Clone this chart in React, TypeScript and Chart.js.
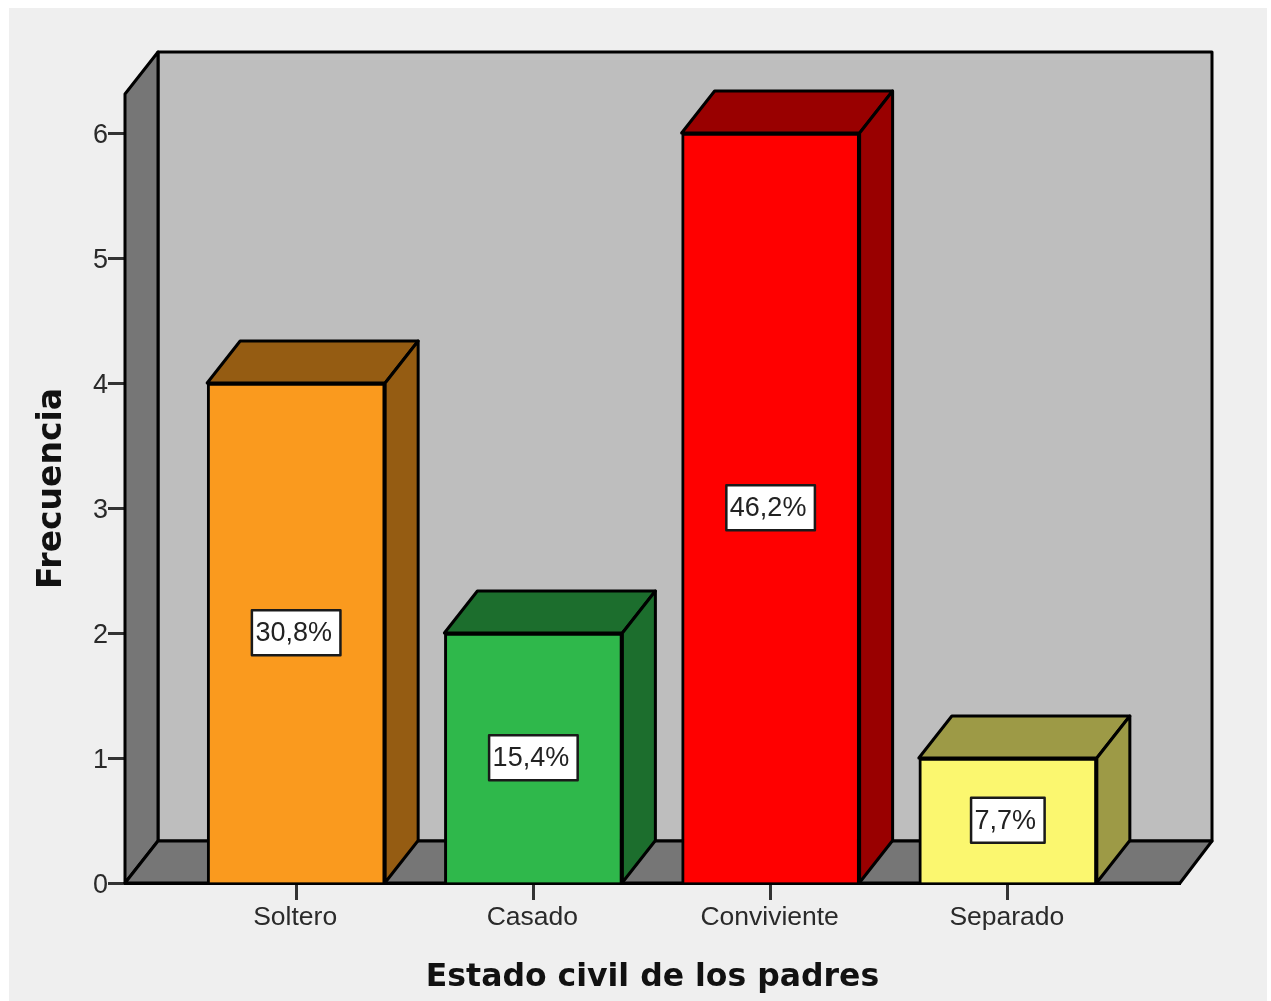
import React, { useEffect, useRef } from "react";
import { Chart, registerables } from "chart.js";

Chart.register(...registerables);

const categories = ["Soltero", "Casado", "Conviviente", "Separado"];
const frequencies = [4, 2, 6, 1];
const percentLabels = ["30,8%", "15,4%", "46,2%", "7,7%"];
const frontColors = ["#FA9A1E", "#2FB84B", "#FF0000", "#FBF76F"];
const sideColors = ["#955C12", "#1C6E2D", "#990000", "#9D9A46"];
const yTicks = [0, 1, 2, 3, 4, 5, 6];
const xAxisTitle = "Estado civil de los padres";
const yAxisTitle = "Frecuencia";

const DEPTH_X = 33;
const DEPTH_Y = 42;
const LABEL_FONT = '27px "Liberation Sans", Arial, sans-serif';

function poly(ctx: CanvasRenderingContext2D, pts: number[][], fill: string) {
  ctx.beginPath();
  pts.forEach((p, i) => (i ? ctx.lineTo(p[0], p[1]) : ctx.moveTo(p[0], p[1])));
  ctx.closePath();
  ctx.fillStyle = fill;
  ctx.fill();
  ctx.strokeStyle = "#000";
  ctx.lineWidth = 3;
  ctx.lineJoin = "round";
  ctx.stroke();
}

const panelPlugin = {
  id: "panel",
  beforeDraw(chart: any) {
    const { ctx, width, height } = chart;
    ctx.save();
    ctx.fillStyle = "#fff";
    ctx.fillRect(0, 0, width, height);
    ctx.fillStyle = "#EFEFEF";
    ctx.fillRect(9, 8, 1258, height - 8);
    ctx.restore();
  },
};

const wallsPlugin = {
  id: "walls",
  beforeDatasetsDraw(chart: any) {
    const { ctx, chartArea: a } = chart;
    const backL = a.left + DEPTH_X;
    const backR = a.right + DEPTH_X - 1;
    const backT = a.top - DEPTH_Y;
    const backB = a.bottom - DEPTH_Y;
    ctx.save();
    poly(ctx, [[backL, backT], [backR, backT], [backR, backB], [backL, backB]], "#BEBEBE");
    poly(ctx, [[a.left, a.top], [backL, backT], [backL, backB], [a.left, a.bottom]], "#767676");
    poly(ctx, [[a.left, a.bottom], [backL, backB], [backR, backB], [a.right, a.bottom]], "#767676");
    ctx.restore();
  },
};

const barFacesPlugin = {
  id: "barFaces",
  afterDatasetsDraw(chart: any) {
    const { ctx } = chart;
    const bars = chart.getDatasetMeta(0).data;
    ctx.save();
    bars.forEach((bar: any, i: number) => {
      const half = bar.width / 2;
      const l = bar.x - half;
      const r = bar.x + half;
      const t = bar.y;
      const b = bar.base;
      poly(ctx, [[l, t], [l + DEPTH_X, t - DEPTH_Y], [r + DEPTH_X, t - DEPTH_Y], [r, t]], sideColors[i]);
      poly(ctx, [[r, t], [r + DEPTH_X, t - DEPTH_Y], [r + DEPTH_X, b - DEPTH_Y], [r, b]], sideColors[i]);
    });
    bars.forEach((bar: any, i: number) => {
      const midY = (bar.y + bar.base) / 2;
      ctx.font = LABEL_FONT;
      const w = ctx.measureText(percentLabels[i]).width + 12;
      const h = 45;
      ctx.fillStyle = "#fff";
      ctx.strokeStyle = "#1a1a1a";
      ctx.lineWidth = 2.5;
      ctx.fillRect(bar.x - w / 2, midY - h / 2, w, h);
      ctx.strokeRect(bar.x - w / 2, midY - h / 2, w, h);
      ctx.fillStyle = "#222";
      ctx.textAlign = "center";
      ctx.textBaseline = "middle";
      ctx.fillText(percentLabels[i], bar.x - 2.5, midY + 1);
    });
    ctx.restore();
  },
};

export default function App() {
  const ref = useRef<HTMLCanvasElement>(null);
  useEffect(() => {
    const chart = new Chart(ref.current!, {
      type: "bar",
      data: {
        datasets: [
          {
            data: frequencies.map((v, i) => ({ x: i, y: v })),
            backgroundColor: frontColors,
            borderColor: "#000",
            borderWidth: 3,
            barThickness: 178,
          },
        ],
      },
      options: {
        animation: false,
        responsive: false,
        layout: { padding: { top: 94, right: 91, left: 0, bottom: 0 } },
        plugins: { legend: { display: false }, tooltip: { enabled: false } },
        scales: {
          x: {
            type: "linear",
            offset: false,
            min: -0.7215,
            max: 3.7257,
            afterBuildTicks: (s: any) => {
              s.ticks = categories.map((_, i) => ({ value: i }));
            },
            afterFit: (s: any) => {
              s.height = 118;
            },
            grid: {
              offset: false,
              drawOnChartArea: false,
              drawTicks: true,
              tickLength: 17,
              tickColor: "#333",
              tickWidth: 3,
            },
            border: { color: "#000", width: 3 },
            ticks: {
              autoSkip: false,
              maxRotation: 0,
              padding: 2,
              labelOffset: -1,
              color: "#2a2a2a",
              font: { family: '"Liberation Sans", Arial, sans-serif', size: 26.5 },
              callback: (v: any) => categories[v as number],
            },
            title: {
              display: true,
              text: xAxisTitle,
              color: "#111",
              padding: { top: 0, bottom: 4 },
              font: { family: '"DejaVu Sans", Verdana, sans-serif', size: 31.5, weight: "bold" },
            },
          },
          y: {
            type: "linear",
            min: 0,
            max: 6.312,
            afterBuildTicks: (s: any) => {
              s.ticks = yTicks.map((value) => ({ value }));
            },
            afterFit: (s: any) => {
              s.width = 125;
            },
            grid: {
              drawOnChartArea: false,
              drawTicks: true,
              tickLength: 17,
              tickColor: "#333",
              tickWidth: 3,
            },
            border: { color: "#000", width: 3 },
            ticks: {
              padding: 0,
              labelOffset: 3,
              color: "#2a2a2a",
              font: { family: '"Liberation Sans", Arial, sans-serif', size: 27 },
            },
            title: {
              display: true,
              text: yAxisTitle,
              color: "#111",
              padding: { top: 33, bottom: 0 },
              font: { family: '"DejaVu Sans", Verdana, sans-serif', size: 33, weight: "bold" },
            },
          },
        },
      },
      plugins: [panelPlugin, wallsPlugin, barFacesPlugin],
    } as any);
    return () => chart.destroy();
  }, []);
  return (
    <div style={{ position: "absolute", left: 0, top: 0, width: 1271, height: 1001 }}>
      <canvas ref={ref} width={1271} height={1001} style={{ display: "block", width: 1271, height: 1001, filter: "blur(0.5px)" }} />
    </div>
  );
}
